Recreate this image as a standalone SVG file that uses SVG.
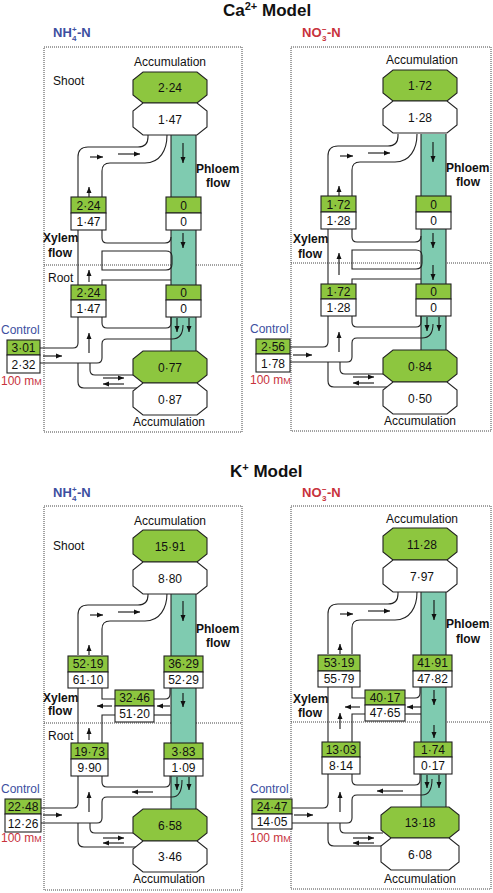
<svg xmlns="http://www.w3.org/2000/svg" width="493" height="893" viewBox="0 0 493 893">
<defs>
<marker id="ah" viewBox="0 0 6 6" refX="6" refY="3" markerWidth="6" markerHeight="6" markerUnits="userSpaceOnUse" orient="auto"><path d="M0,0.5 L6,3 L0,5.5 z" fill="#111"/></marker>
<style>
.frame{fill:none;stroke:#444;stroke-width:1;stroke-dasharray:1 1}
.ln{fill:none;stroke:#222;stroke-width:1.1}
.ar{fill:none;stroke:#111;stroke-width:1.1;marker-end:url(#ah)}
.g{fill:#8dc63f;stroke:#222;stroke-width:1.1}
.w{fill:#fff;stroke:#222;stroke-width:1.1}
.col{fill:#7fcbb0}
.cb{stroke:#222;stroke-width:1.1}
text{font-family:"Liberation Sans",Arial,Helvetica,sans-serif;font-size:12px;fill:#111}
.b{font-weight:bold}
.c{text-anchor:middle}
.title{font-size:17px;font-weight:bold}
.blue{fill:#3d4f9f}
.red{fill:#c8323c}
.lab{font-size:13px;font-weight:bold}
.sub{font-size:8px;font-weight:bold}
</style>
</defs>
<rect width="493" height="893" fill="#fff"/>

<!-- titles -->
<text class="title" x="223" y="16">Ca<tspan font-size="11" dy="-6">2+</tspan><tspan dy="6"> Model</tspan></text>
<text class="title" x="230" y="477">K<tspan font-size="11" dy="-6">+</tspan><tspan dy="6"> Model</tspan></text>

<!-- panel labels -->
<g id="lab-ca-nh4" class="blue"><text class="lab blue" x="53" y="37">NH</text><text class="sub blue" x="72" y="32">+</text><text class="sub blue" x="72" y="41">4</text><text class="lab blue" x="77" y="37">-N</text></g>
<g id="lab-ca-no3"><text class="lab red" x="302" y="37">NO</text><text class="sub red" x="322" y="32">−</text><text class="sub red" x="322" y="41">3</text><text class="lab red" x="327" y="37">-N</text></g>
<g id="lab-k-nh4"><text class="lab blue" x="53" y="497">NH</text><text class="sub blue" x="72" y="492">+</text><text class="sub blue" x="72" y="501">4</text><text class="lab blue" x="77" y="497">-N</text></g>
<g id="lab-k-no3"><text class="lab red" x="302" y="497">NO</text><text class="sub red" x="322" y="492">−</text><text class="sub red" x="322" y="501">3</text><text class="lab red" x="327" y="497">-N</text></g>

<!-- frames -->
<g id="frames">
<rect class="frame" x="44" y="47" width="198" height="385"/><line class="frame" x1="44" y1="265" x2="242" y2="265"/>
<rect class="frame" x="291" y="47" width="200" height="384"/><line class="frame" x1="291" y1="263" x2="491" y2="263"/>
<rect class="frame" x="44" y="506" width="198" height="384"/><line class="frame" x1="44" y1="723" x2="242" y2="723"/>
<rect class="frame" x="291" y="506" width="200" height="383"/><line class="frame" x1="291" y1="722" x2="491" y2="722"/>
</g>

<!-- ================= Ca NH4 ================= -->
<g id="ca-nh4">
<g id="ca-nh4-connectors">
<rect class="col" x="171" y="135" width="25" height="216"/>
<line class="cb" x1="171" y1="135" x2="171" y2="351"/><line class="cb" x1="196" y1="135" x2="196" y2="351"/>
<path class="ln" d="M78,197 V157 Q78,147 88,147 H138 Q148,147 148,137 V135"/>
<path class="ln" d="M102,197 V171 Q102,163 110,163 H145 C160,163 167,150 167,135"/>
<path class="ln" d="M78,230 V285"/>
<path class="ln" d="M102,230 V238 Q102,243 107,243 H165 Q171,243 171,237"/>
<path class="ln" d="M102,251 H166 Q172,251 172,257 V264 Q172,270 166,270 H102 Z"/>
<path class="ln" d="M102,285 V280 H171"/>
<path class="ln" d="M102,317 V323 Q102,328 107,328 H166 Q171,328 171,323 V317"/>
<path class="ln" d="M40,348 H73 Q78,348 78,343 V317"/>
<path class="ln" d="M40,363 H97 Q102,363 102,358 V344 Q102,339 107,339 H172 Q183,339 183,325"/>
<path class="ln" d="M78,363 V382 Q78,388 84,388 H137"/>
<path class="ln" d="M90,363 V370 Q90,375 95,375 H133"/>
<line class="ar" x1="90" y1="157" x2="103" y2="157"/>
<line class="ar" x1="118" y1="154" x2="140" y2="154"/>
<line class="ar" x1="89" y1="197" x2="89" y2="187"/>
<line class="ar" x1="183" y1="143" x2="183" y2="163"/>
<line class="ar" x1="183" y1="233" x2="183" y2="248"/>
<line class="ar" x1="89" y1="282" x2="89" y2="270"/>
<line class="ar" x1="177" y1="318" x2="177" y2="332"/>
<line class="ar" x1="189" y1="318" x2="189" y2="332"/>
<line class="ar" x1="43" y1="356" x2="62" y2="356"/>
<line class="ar" x1="89" y1="353" x2="89" y2="333"/>
<line class="ar" x1="103" y1="378" x2="124" y2="378"/>
<line class="ar" x1="124" y1="384" x2="103" y2="384"/>
</g>
<text x="53" y="85">Shoot</text>
<text x="48" y="282">Root</text>
<text class="b" x="196" y="173">Phloem</text><text class="b c" x="218" y="187">flow</text>
<text class="b" x="43" y="242">Xylem</text><text class="b c" x="60" y="257">flow</text>
<text class="c" x="170" y="66">Accumulation</text>
<text class="c" x="169" y="426">Accumulation</text>
<text class="blue" x="1" y="334">Control</text>
<text class="red" x="1" y="385">100 m<tspan font-size="9">M</tspan></text>
<g id="ca-nh4-shoot-acc"><path class="g" d="M143,72 H197 L207,80 V95 L197,103 H143 L133,95 V80 Z"/><path class="w" d="M143,103 H197 L207,111 V127 L197,135 H143 L133,127 V111 Z"/><text class="c" x="170" y="92">2·24</text><text class="c" x="170" y="123.5">1·47</text></g>
<g id="ca-nh4-xylem-shoot"><rect class="g" x="71" y="197" width="35" height="16"/><rect class="w" x="71" y="213" width="35" height="17"/><text class="c" x="88.5" y="209.5">2·24</text><text class="c" x="88.5" y="226">1·47</text></g>
<g id="ca-nh4-phloem-shoot"><rect class="g" x="166" y="197" width="35" height="16"/><rect class="w" x="166" y="213" width="35" height="17"/><text class="c" x="183.5" y="209.5">0</text><text class="c" x="183.5" y="226">0</text></g>
<g id="ca-nh4-xylem-root"><rect class="g" x="71" y="285" width="35" height="15"/><rect class="w" x="71" y="300" width="35" height="17"/><text class="c" x="88.5" y="297">2·24</text><text class="c" x="88.5" y="313">1·47</text></g>
<g id="ca-nh4-phloem-root"><rect class="g" x="166" y="285" width="35" height="15"/><rect class="w" x="166" y="300" width="35" height="17"/><text class="c" x="183.5" y="297">0</text><text class="c" x="183.5" y="313">0</text></g>
<g id="ca-nh4-control"><rect class="g" x="7" y="340" width="33" height="15"/><rect class="w" x="7" y="355" width="33" height="18"/><text class="c" x="23.5" y="352">3·01</text><text class="c" x="23.5" y="368.5">2·32</text></g>
<g id="ca-nh4-root-acc"><path class="g" d="M143,351 H197 L207,359 V375 L197,383 H143 L133,375 V359 Z"/><path class="w" d="M143,383 H197 L207,391 V407 L197,415 H143 L133,407 V391 Z"/><text class="c" x="170" y="371.5">0·77</text><text class="c" x="170" y="403.5">0·87</text></g>
</g>

<!-- ================= Ca NO3 ================= -->
<g id="ca-no3" transform="translate(250,-1)">
<g id="ca-no3-connectors">
<rect class="col" x="171" y="135" width="25" height="216"/>
<line class="cb" x1="171" y1="135" x2="171" y2="351"/><line class="cb" x1="196" y1="135" x2="196" y2="351"/>
<path class="ln" d="M78,197 V157 Q78,147 88,147 H138 Q148,147 148,137 V135"/>
<path class="ln" d="M102,197 V171 Q102,163 110,163 H145 C160,163 167,150 167,135"/>
<path class="ln" d="M78,230 V285"/>
<path class="ln" d="M102,230 V238 Q102,243 107,243 H165 Q171,243 171,237"/>
<path class="ln" d="M102,251 H166 Q172,251 172,257 V264 Q172,270 166,270 H102 Z"/>
<path class="ln" d="M102,285 V280 H171"/>
<path class="ln" d="M102,317 V323 Q102,328 107,328 H166 Q171,328 171,323 V317"/>
<path class="ln" d="M40,348 H73 Q78,348 78,343 V317"/>
<path class="ln" d="M40,363 H97 Q102,363 102,358 V344 Q102,339 107,339 H172 Q183,339 183,325"/>
<path class="ln" d="M78,363 V382 Q78,388 84,388 H137"/>
<path class="ln" d="M90,363 V370 Q90,375 95,375 H133"/>
<line class="ar" x1="90" y1="157" x2="103" y2="157"/>
<line class="ar" x1="118" y1="154" x2="140" y2="154"/>
<line class="ar" x1="89" y1="197" x2="89" y2="187"/>
<line class="ar" x1="183" y1="143" x2="183" y2="163"/>
<line class="ar" x1="183" y1="234" x2="183" y2="249"/>
<line class="ar" x1="89" y1="276" x2="89" y2="254"/>
<line class="ar" x1="183" y1="266" x2="183" y2="281"/>
<line class="ar" x1="177" y1="318" x2="177" y2="332"/>
<line class="ar" x1="189" y1="318" x2="189" y2="332"/>
<line class="ar" x1="43" y1="356" x2="62" y2="356"/>
<line class="ar" x1="89" y1="353" x2="89" y2="333"/>
<line class="ar" x1="103" y1="378" x2="124" y2="378"/>
<line class="ar" x1="124" y1="384" x2="103" y2="384"/>
</g>
<text class="b" x="196" y="173">Phloem</text><text class="b c" x="218" y="187">flow</text>
<text class="b" x="43" y="244">Xylem</text><text class="b c" x="60" y="259">flow</text>
<text class="c" x="172" y="65">Accumulation</text>
<text class="c" x="170" y="426">Accumulation</text>
<text class="blue" x="0" y="334">Control</text>
<text class="red" x="0" y="385">100 m<tspan font-size="9">M</tspan></text>
<g id="ca-no3-shoot-acc"><path class="g" d="M143,71 H197 L207,79 V94 L197,102 H143 L133,94 V79 Z"/><path class="w" d="M143,102 H197 L207,110 V126 L197,134 H143 L133,126 V110 Z"/><text class="c" x="170" y="91">1·72</text><text class="c" x="170" y="122.5">1·28</text></g>
<g id="ca-no3-xylem-shoot"><rect class="g" x="71" y="197" width="35" height="16"/><rect class="w" x="71" y="213" width="35" height="17"/><text class="c" x="88.5" y="209.5">1·72</text><text class="c" x="88.5" y="226">1·28</text></g>
<g id="ca-no3-phloem-shoot"><rect class="g" x="166" y="197" width="35" height="16"/><rect class="w" x="166" y="213" width="35" height="17"/><text class="c" x="183.5" y="209.5">0</text><text class="c" x="183.5" y="226">0</text></g>
<g id="ca-no3-xylem-root"><rect class="g" x="71" y="285" width="35" height="15"/><rect class="w" x="71" y="300" width="35" height="17"/><text class="c" x="88.5" y="297">1·72</text><text class="c" x="88.5" y="313">1·28</text></g>
<g id="ca-no3-phloem-root"><rect class="g" x="166" y="285" width="35" height="15"/><rect class="w" x="166" y="300" width="35" height="17"/><text class="c" x="183.5" y="297">0</text><text class="c" x="183.5" y="313">0</text></g>
<g id="ca-no3-control"><rect class="g" x="6" y="340" width="34" height="15"/><rect class="w" x="6" y="355" width="34" height="18"/><text class="c" x="23" y="352">2·56</text><text class="c" x="23" y="368.5">1·78</text></g>
<g id="ca-no3-root-acc"><path class="g" d="M143,351 H197 L207,359 V375 L197,383 H143 L133,375 V359 Z"/><path class="w" d="M143,383 H197 L207,391 V407 L197,415 H143 L133,407 V391 Z"/><text class="c" x="170" y="371.5">0·84</text><text class="c" x="170" y="403.5">0·50</text></g>
</g>

<!-- ================= K NH4 ================= -->
<g id="k-nh4" transform="translate(0,458)">
<g id="k-nh4-connectors">
<rect class="col" x="171" y="135" width="25" height="216"/>
<line class="cb" x1="171" y1="135" x2="171" y2="351"/><line class="cb" x1="196" y1="135" x2="196" y2="351"/>
<path class="ln" d="M78,197 V157 Q78,147 88,147 H138 Q148,147 148,137 V135"/>
<path class="ln" d="M102,197 V171 Q102,163 110,163 H145 C160,163 167,150 167,135"/>
<path class="ln" d="M78,230 V285"/>
<path class="ln" d="M102,230 V241 H115"/>
<path class="ln" d="M154,241 H165 Q170,241 170,236 V230"/>
<path class="ln" d="M154,257 H171"/>
<path class="ln" d="M115,257 H102 V285"/>
<path class="ln" d="M102,318 V324 Q102,329 107,329 H165 Q170,329 170,324 V318"/>
<path class="ln" d="M41,350 H73 Q78,350 78,345 V318"/>
<path class="ln" d="M41,365 H97 Q102,365 102,360 V344 Q102,339 107,339 H172 Q182,339 182,322"/>
<path class="ln" d="M78,365 V383 Q78,389 84,389 H136"/>
<path class="ln" d="M90,365 V370 Q90,375 95,375 H133"/>
<line class="ar" x1="90" y1="157" x2="103" y2="157"/>
<line class="ar" x1="118" y1="154" x2="140" y2="154"/>
<line class="ar" x1="89" y1="197" x2="89" y2="187"/>
<line class="ar" x1="183" y1="143" x2="183" y2="163"/>
<line class="ar" x1="112" y1="248" x2="97" y2="248"/>
<line class="ar" x1="170" y1="248" x2="157" y2="248"/>
<line class="ar" x1="183" y1="235" x2="183" y2="249"/>
<line class="ar" x1="89" y1="282" x2="89" y2="270"/>
<line class="ar" x1="177" y1="319" x2="177" y2="332"/>
<line class="ar" x1="189" y1="319" x2="189" y2="332"/>
<line class="ar" x1="153" y1="334" x2="132" y2="334"/>
<line class="ar" x1="43" y1="357" x2="62" y2="357"/>
<line class="ar" x1="89" y1="354" x2="89" y2="334"/>
<line class="ar" x1="103" y1="380" x2="124" y2="380"/>
<line class="ar" x1="124" y1="385" x2="103" y2="385"/>
</g>
<text x="53" y="92">Shoot</text>
<text x="48" y="282">Root</text>
<text class="b" x="196" y="175">Phloem</text><text class="b c" x="218" y="189">flow</text>
<text class="b" x="43" y="244">Xylem</text><text class="b c" x="60" y="257">flow</text>
<text class="c" x="170" y="67">Accumulation</text>
<text class="c" x="169" y="425">Accumulation</text>
<text class="blue" x="1" y="335">Control</text>
<text class="red" x="1" y="384">100 m<tspan font-size="9">M</tspan></text>
<g id="k-nh4-shoot-acc"><path class="g" d="M143,72 H197 L207,80 V96 L197,104 H143 L133,96 V80 Z"/><path class="w" d="M143,104 H197 L207,112 V128 L197,136 H143 L133,128 V112 Z"/><text class="c" x="170" y="92.5">15·91</text><text class="c" x="170" y="124.5">8·80</text></g>
<g id="k-nh4-xylem-shoot"><rect class="g" x="68" y="198" width="40" height="16"/><rect class="w" x="68" y="214" width="40" height="16"/><text class="c" x="88" y="210">52·19</text><text class="c" x="88" y="226">61·10</text></g>
<g id="k-nh4-phloem-shoot"><rect class="g" x="164" y="198" width="39" height="16"/><rect class="w" x="164" y="214" width="39" height="16"/><text class="c" x="183.5" y="210">36·29</text><text class="c" x="183.5" y="226">52·29</text></g>
<g id="k-nh4-transfer"><rect class="g" x="115" y="232" width="39" height="16"/><rect class="w" x="115" y="248" width="39" height="16"/><text class="c" x="134.5" y="244">32·46</text><text class="c" x="134.5" y="260">51·20</text></g>
<g id="k-nh4-xylem-root"><rect class="g" x="71" y="285" width="37" height="16"/><rect class="w" x="71" y="301" width="37" height="17"/><text class="c" x="89.5" y="297.5">19·73</text><text class="c" x="89.5" y="314">9·90</text></g>
<g id="k-nh4-phloem-root"><rect class="g" x="164" y="285" width="39" height="16"/><rect class="w" x="164" y="301" width="39" height="17"/><text class="c" x="183.5" y="297.5">3·83</text><text class="c" x="183.5" y="314">1·09</text></g>
<g id="k-nh4-control"><rect class="g" x="5" y="341" width="36" height="15"/><rect class="w" x="5" y="356" width="36" height="18"/><text class="c" x="23" y="353">22·48</text><text class="c" x="23" y="369.5">12·26</text></g>
<g id="k-nh4-root-acc"><path class="g" d="M143,351 H197 L207,359 V375 L197,383 H143 L133,375 V359 Z"/><path class="w" d="M143,383 H197 L207,391 V406 L197,414 H143 L133,406 V391 Z"/><text class="c" x="170" y="371.5">6·58</text><text class="c" x="170" y="403">3·46</text></g>
</g>

<!-- ================= K NO3 ================= -->
<g id="k-no3" transform="translate(250,457)">
<g id="k-no3-connectors">
<rect class="col" x="171" y="135" width="25" height="216"/>
<line class="cb" x1="171" y1="135" x2="171" y2="351"/><line class="cb" x1="196" y1="135" x2="196" y2="351"/>
<path class="ln" d="M78,197 V157 Q78,147 88,147 H138 Q148,147 148,137 V135"/>
<path class="ln" d="M102,197 V171 Q102,163 110,163 H145 C160,163 167,150 167,135"/>
<path class="ln" d="M78,230 V285"/>
<path class="ln" d="M102,230 V241 H115"/>
<path class="ln" d="M154,241 H165 Q170,241 170,236 V230"/>
<path class="ln" d="M154,257 H171"/>
<path class="ln" d="M115,257 H102 V285"/>
<path class="ln" d="M102,317 V323 Q102,328 107,328 H165 Q170,328 170,323 V317"/>
<path class="ln" d="M42,351 H73 Q78,351 78,346 V317"/>
<path class="ln" d="M42,366 H97 Q102,366 102,361 V343 Q102,338 107,338 H172 Q182,338 182,322"/>
<path class="ln" d="M78,366 V383 Q78,389 84,389 H136"/>
<path class="ln" d="M90,366 V371 Q90,376 95,376 H133"/>
<line class="ar" x1="90" y1="157" x2="103" y2="157"/>
<line class="ar" x1="118" y1="154" x2="140" y2="154"/>
<line class="ar" x1="90" y1="197" x2="90" y2="187"/>
<line class="ar" x1="184" y1="143" x2="184" y2="163"/>
<line class="ar" x1="110" y1="250" x2="95" y2="250"/>
<line class="ar" x1="171" y1="250" x2="157" y2="250"/>
<line class="ar" x1="184" y1="233" x2="184" y2="248"/>
<line class="ar" x1="90" y1="272" x2="90" y2="256"/>
<line class="ar" x1="184" y1="268" x2="184" y2="281"/>
<line class="ar" x1="177" y1="318" x2="177" y2="331"/>
<line class="ar" x1="189" y1="318" x2="189" y2="331"/>
<line class="ar" x1="153" y1="334" x2="127" y2="334"/>
<line class="ar" x1="44" y1="358" x2="63" y2="358"/>
<line class="ar" x1="90" y1="355" x2="90" y2="335"/>
<line class="ar" x1="103" y1="381" x2="124" y2="381"/>
<line class="ar" x1="124" y1="386" x2="103" y2="386"/>
</g>
<text class="b" x="196" y="171">Phloem</text><text class="b c" x="218" y="186">flow</text>
<text class="b" x="43" y="246">Xylem</text><text class="b c" x="60" y="260">flow</text>
<text class="c" x="172" y="66">Accumulation</text>
<text class="c" x="170" y="426">Accumulation</text>
<text class="blue" x="0" y="336">Control</text>
<text class="red" x="0" y="385">100 m<tspan font-size="9">M</tspan></text>
<g id="k-no3-shoot-acc"><path class="g" d="M143,71 H197 L207,79 V95 L197,103 H143 L133,95 V79 Z"/><path class="w" d="M143,103 H197 L207,111 V127 L197,135 H143 L133,127 V111 Z"/><text class="c" x="172" y="91.5">11·28</text><text class="c" x="172" y="123.5">7·97</text></g>
<g id="k-no3-xylem-shoot"><rect class="g" x="68" y="198" width="42" height="16"/><rect class="w" x="68" y="214" width="42" height="16"/><text class="c" x="89" y="210">53·19</text><text class="c" x="89" y="226">55·79</text></g>
<g id="k-no3-phloem-shoot"><rect class="g" x="163" y="198" width="39" height="16"/><rect class="w" x="163" y="214" width="39" height="16"/><text class="c" x="182.5" y="210">41·91</text><text class="c" x="182.5" y="226">47·82</text></g>
<g id="k-no3-transfer"><rect class="g" x="115" y="233" width="40" height="15"/><rect class="w" x="115" y="248" width="40" height="16"/><text class="c" x="135" y="244.5">40·17</text><text class="c" x="135" y="260">47·65</text></g>
<g id="k-no3-xylem-root"><rect class="g" x="72" y="285" width="38" height="15"/><rect class="w" x="72" y="300" width="38" height="17"/><text class="c" x="91" y="297">13·03</text><text class="c" x="91" y="313">8·14</text></g>
<g id="k-no3-phloem-root"><rect class="g" x="164" y="285" width="38" height="15"/><rect class="w" x="164" y="300" width="38" height="17"/><text class="c" x="183" y="297">1·74</text><text class="c" x="183" y="313">0·17</text></g>
<g id="k-no3-control"><rect class="g" x="2" y="342" width="40" height="15"/><rect class="w" x="2" y="357" width="40" height="15"/><text class="c" x="22" y="354">24·47</text><text class="c" x="22" y="369">14·05</text></g>
<g id="k-no3-root-acc"><path class="g" d="M141,350 H199 L209,358 V373 L199,381 H141 L131,373 V358 Z"/><path class="w" d="M141,381 H199 L209,389 V405 L199,413 H141 L131,405 V389 Z"/><text class="c" x="170" y="370">13·18</text><text class="c" x="170" y="401.5">6·08</text></g>
</g>
</svg>
